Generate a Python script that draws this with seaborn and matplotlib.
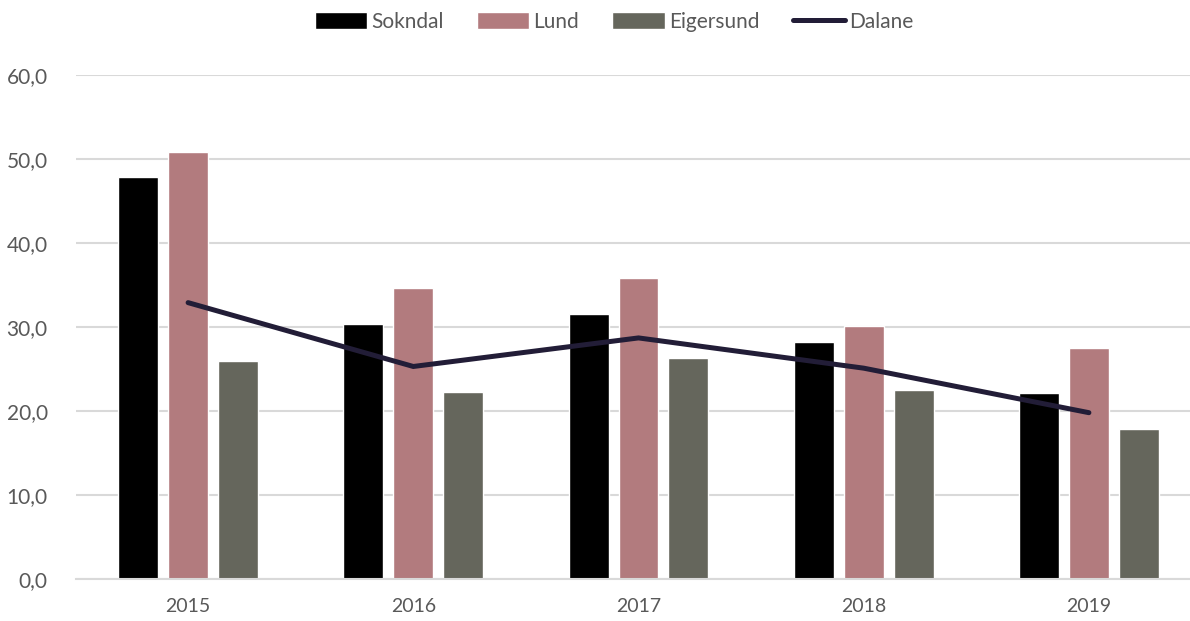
import matplotlib
matplotlib.use("Agg")
import matplotlib.pyplot as plt
import seaborn as sns
import pandas as pd
from matplotlib.ticker import FuncFormatter, MultipleLocator
from matplotlib.patches import Patch
from matplotlib.lines import Line2D

years = ["2015", "2016", "2017", "2018", "2019"]
sokndal = [47.9, 30.4, 31.5, 28.2, 22.1]
lund = [50.8, 34.6, 35.8, 30.1, 27.5]
eigersund = [25.9, 22.3, 26.3, 22.5, 17.8]
dalane = [32.9, 25.3, 28.7, 25.1, 19.8]
bar_series = ["Sokndal", "Lund", "Eigersund"]
line_series = "Dalane"

colors = {"Sokndal": "#000000", "Lund": "#b27b7e", "Eigersund": "#65665c"}
line_color = "#221d37"
text_color = "#595959"
grid_color = "#d9d9d9"

sns.set_theme(style="white")
plt.rcParams["font.family"] = ["Lato", "DejaVu Sans"]

df = pd.DataFrame({
    "År": years * 3,
    "Verdi": sokndal + lund + eigersund,
    "Kommune": [s for s in bar_series for _ in years],
})
line_df = pd.DataFrame({"pos": list(range(len(years))), "Verdi": dalane})

fig = plt.figure(figsize=(11.9, 6.21), dpi=100)
ax = fig.add_axes([75.5 / 1190, 1 - 579 / 621, (1201.5 - 75.5) / 1190, (579 - 75) / 621])

sns.barplot(data=df, x="År", y="Verdi", hue="Kommune", palette=colors,
            hue_order=bar_series, width=0.666, gap=0.2, ax=ax, legend=False,
            saturation=1)
sns.lineplot(data=line_df, x="pos", y="Verdi", color=line_color, linewidth=3.6,
             ax=ax, solid_capstyle="round", solid_joinstyle="miter", legend=False)

ax.set_xlim(-0.5, len(years) - 0.5)
ax.set_ylim(0, 60)
ax.yaxis.set_major_locator(MultipleLocator(10))
ax.yaxis.set_major_formatter(FuncFormatter(lambda v, p: f"{v:.1f}".replace(".", ",")))
ax.grid(axis="y", color=grid_color, linewidth=1.5)
ax.set_axisbelow(True)
for s in ["top", "right", "left"]:
    ax.spines[s].set_visible(False)
ax.spines["bottom"].set_color(grid_color)
ax.spines["bottom"].set_linewidth(1.5)
ax.set_xlabel("")
ax.set_ylabel("")
ax.tick_params(axis="both", length=0, colors=text_color)
ax.tick_params(axis="y", pad=20, labelsize=15)
ax.tick_params(axis="x", pad=14, labelsize=14)

handles = [Patch(facecolor=colors[s], label=s) for s in bar_series]
handles.append(Line2D([0], [0], color=line_color, linewidth=3.6, solid_capstyle="round", label=line_series))
leg = fig.legend(handles=handles, loc="center", bbox_to_anchor=(614 / 1190, 1 - 22 / 621),
                 ncol=4, frameon=False, fontsize=15, handlelength=2.5, handleheight=0.85,
                 columnspacing=1.6, handletextpad=0.2)
for t in leg.get_texts():
    t.set_color(text_color)

fig.savefig("out.png", dpi=100, facecolor="white")
